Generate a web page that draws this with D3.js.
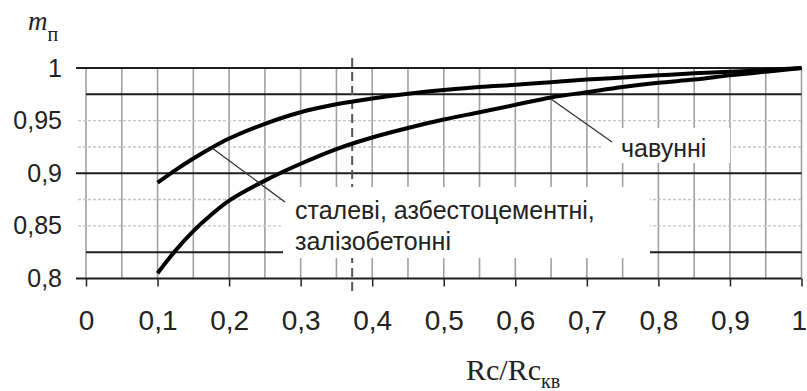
<!DOCTYPE html>
<html>
<head>
<meta charset="utf-8">
<script src="https://cdn.jsdelivr.net/npm/d3@7"></script>
<style>
  body { margin: 0; background: #fff; }
  text { font-family: "Liberation Sans", Arial, sans-serif; fill: #222; }
  .serif { font-family: "Liberation Serif", "Times New Roman", serif; }
</style>
</head>
<body>
<svg id="svg"></svg>
<script>
// Rc/Rc_кв values where the curves were read
const ratio = [0.1, 0.125, 0.15, 0.175, 0.2, 0.25, 0.3, 0.35, 0.4, 0.45, 0.5,
  0.55, 0.6, 0.65, 0.7, 0.75, 0.8, 0.85, 0.9, 0.95, 1];
// сталеві, азбестоцементні, залізобетонні
const steel = [0.891, 0.903, 0.914, 0.924, 0.933, 0.947, 0.958, 0.9655, 0.971, 0.9755, 0.979,
  0.982, 0.984, 0.9865, 0.989, 0.991, 0.993, 0.995, 0.9965, 0.998, 1];
// чавунні
const castIron = [0.805, 0.8265, 0.845, 0.8605, 0.874, 0.893, 0.909, 0.923, 0.934, 0.943, 0.951,
  0.958, 0.965, 0.972, 0.977, 0.982, 0.986, 0.989, 0.993, 0.9965, 1];

const xTicks = [0, 0.1, 0.2, 0.3, 0.4, 0.5, 0.6, 0.7, 0.8, 0.9, 1];
const yTicks = [0.8, 0.85, 0.9, 0.95, 1];
const xGrid = [0, 0.05, 0.1, 0.15, 0.2, 0.25, 0.3, 0.35, 0.4, 0.45, 0.5,
  0.55, 0.6, 0.65, 0.7, 0.75, 0.8, 0.85, 0.9, 0.95, 1];
const yBold = [1, 0.975, 0.9, 0.825, 0.8];
const yDotted = [0.95, 0.925, 0.875, 0.85];
const markX = 0.372;

const W = 807, H = 391;
const svg = d3.select('#svg').attr('width', W).attr('height', H);

const x = d3.scaleLinear().domain([0, 1]).range([86, 801.5]);
const y = d3.scaleLinear().domain([0.8, 1]).range([278.5, 68]);
const fmt = (d) => String(d).replace('.', ',');

const grid = svg.append('g');

// vertical grid
grid.selectAll('line.vg')
  .data(xGrid)
  .join('line')
  .attr('class', 'vg')
  .attr('x1', (d) => x(d)).attr('x2', (d) => x(d))
  .attr('y1', y(1)).attr('y2', y(0.8))
  .attr('stroke', '#a0a0a0')
  .attr('stroke-width', 1.6);

// dotted horizontal grid
grid.selectAll('line.hd')
  .data(yDotted)
  .join('line')
  .attr('class', 'hd')
  .attr('x1', x(0) - 8).attr('x2', x(1))
  .attr('y1', (d) => y(d)).attr('y2', (d) => y(d))
  .attr('stroke', '#c4c4c4')
  .attr('stroke-width', 1.4)
  .attr('stroke-dasharray', '3,2');

// solid horizontal lines
grid.selectAll('line.hs')
  .data(yBold)
  .join('line')
  .attr('class', 'hs')
  .attr('x1', (d) => (d === 0.975 || d === 0.825 ? x(0) : x(0) - 10))
  .attr('x2', x(1))
  .attr('y1', (d) => y(d)).attr('y2', (d) => y(d))
  .attr('stroke', '#1e1e1e')
  .attr('stroke-width', 2);

// dashed marker
grid.append('line')
  .attr('x1', x(markX)).attr('x2', x(markX))
  .attr('y1', 58).attr('y2', 292)
  .attr('stroke', '#555')
  .attr('stroke-width', 2)
  .attr('stroke-dasharray', '9,5');

// x axis
const xAxis = d3.axisBottom(x)
  .tickValues(xTicks)
  .tickSize(8)
  .tickFormat(fmt);
const gx = svg.append('g')
  .attr('transform', 'translate(0,' + y(0.8) + ')')
  .call(xAxis);
gx.select('.domain').remove();
gx.selectAll('line').attr('stroke', '#222').attr('stroke-width', 1.5);
gx.selectAll('text')
  .attr('y', 42)
  .attr('dy', '0.35em')
  .attr('font-size', 28)
  .attr('fill', '#222')
  .attr('font-family', '"Liberation Sans", Arial, sans-serif');
// last label sits against the right edge
gx.selectAll('text')
  .filter((d) => d === 1)
  .attr('text-anchor', 'end')
  .attr('x', 5);

// y axis labels
const yAxis = d3.axisLeft(y)
  .tickValues(yTicks)
  .tickSize(0)
  .tickPadding(24)
  .tickFormat(fmt);
const gy = svg.append('g')
  .attr('transform', 'translate(' + x(0) + ',0)')
  .call(yAxis);
gy.select('.domain').remove();
gy.selectAll('text')
  .attr('font-size', 25)
  .attr('fill', '#222')
  .attr('font-family', '"Liberation Sans", Arial, sans-serif');

// curves
const line = d3.line()
  .x((d, i) => x(ratio[i]))
  .y((d) => y(d))
  .curve(d3.curveCatmullRom);

svg.append('g')
  .selectAll('path')
  .data([steel, castIron])
  .join('path')
  .attr('d', line)
  .attr('fill', 'none')
  .attr('stroke', '#000')
  .attr('stroke-width', 4)
  .attr('stroke-linejoin', 'round');

// label boxes mask the grid
svg.append('rect')
  .attr('x', 283).attr('y', 187).attr('width', 367).attr('height', 71)
  .attr('fill', '#fff');
svg.append('rect')
  .attr('x', 603).attr('y', 128).attr('width', 127).attr('height', 35)
  .attr('fill', '#fff');

// leaders
svg.append('line')
  .attr('x1', 212).attr('y1', 148).attr('x2', 285).attr('y2', 202)
  .attr('stroke', '#333').attr('stroke-width', 1.3);
svg.append('line')
  .attr('x1', 551).attr('y1', 99).attr('x2', 612).attr('y2', 142)
  .attr('stroke', '#333').attr('stroke-width', 1.3);

svg.append('text')
  .attr('x', 295).attr('y', 219)
  .attr('font-size', 25)
  .text('сталеві, азбестоцементні,');
svg.append('text')
  .attr('x', 295).attr('y', 250)
  .attr('font-size', 25)
  .text('залізобетонні');
svg.append('text')
  .attr('x', 621).attr('y', 157)
  .attr('font-size', 25)
  .text('чавунні');

// axis titles
const yt = svg.append('text')
  .attr('class', 'serif')
  .attr('x', 28).attr('y', 30)
  .attr('font-size', 27);
yt.append('tspan').attr('font-style', 'italic').text('m');
yt.append('tspan').attr('font-size', 20).attr('dy', 11).text('п');

const xt = svg.append('text')
  .attr('class', 'serif')
  .attr('x', 466).attr('y', 380)
  .attr('font-size', 30);
xt.append('tspan').text('Rc/Rc');
xt.append('tspan').attr('font-size', 20).attr('dy', 8).text('кв');
</script>
</body>
</html>
